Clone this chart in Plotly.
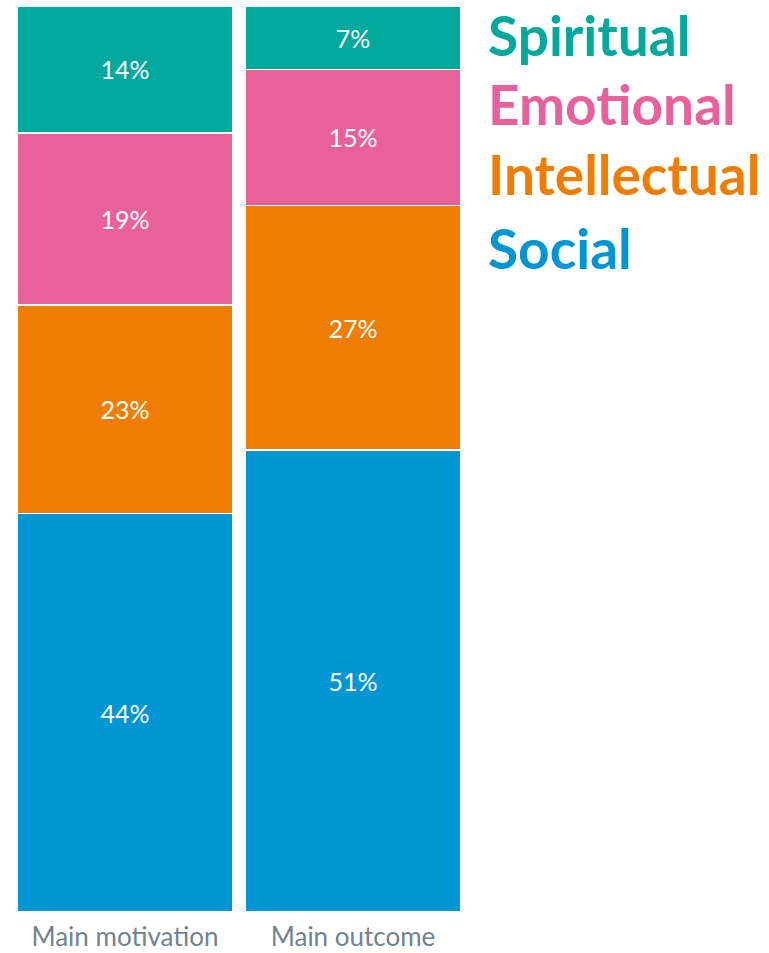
import plotly.graph_objects as go

# Share of respondents by dimension, for motivation vs. outcome
categories = ["Main motivation", "Main outcome"]
series_names = ["Social", "Intellectual", "Emotional", "Spiritual"]
series_values = {
    "Social": [44, 51],
    "Intellectual": [23, 27],
    "Emotional": [19, 15],
    "Spiritual": [14, 7],
}
series_colors = {
    "Social": "#0096D4",
    "Intellectual": "#EF7D00",
    "Emotional": "#E9619A",
    "Spiritual": "#00A99C",
}

W, H = 769, 953
M_L, M_R, M_T, M_B = 11, 302, 6, 41
plot_h = H - M_T - M_B
plot_w = W - M_L - M_R

fig = go.Figure()
for name in series_names:
    vals = series_values[name]
    fig.add_trace(go.Bar(
        x=categories,
        y=vals,
        name=name,
        marker=dict(color=series_colors[name], line=dict(color="white", width=1.5)),
        text=[f"{v}%" for v in vals],
        textposition="inside",
        insidetextanchor="middle",
        textangle=0,
        textfont=dict(family="Lato", size=25, color="white"),
        hoverinfo="skip",
    ))

# Right-hand key: coloured words stacked top to bottom
key_order = ["Spiritual", "Emotional", "Intellectual", "Social"]
key_top_px = [0, 69, 139, 213]
for name, top in zip(key_order, key_top_px):
    fig.add_annotation(
        text=f"<b>{name}</b>",
        xref="paper", yref="paper",
        x=(486 - M_L) / plot_w, y=1 - (top - M_T) / plot_h,
        xanchor="left", yanchor="top",
        showarrow=False,
        font=dict(family="Lato", size=55, color=series_colors[name]),
    )

fig.update_layout(
    barmode="stack",
    bargap=0.053,
    width=W, height=H,
    margin=dict(l=M_L, r=M_R, t=M_T, b=M_B, autoexpand=False),
    paper_bgcolor="white",
    plot_bgcolor="white",
    showlegend=False,
    uniformtext=dict(minsize=25, mode="show"),
)
fig.update_xaxes(
    showgrid=False, zeroline=False, showline=False, ticks="",
    tickfont=dict(family="Lato", size=26, color="#72838D"),
    ticklabelstandoff=7,
    automargin=False,
)
fig.update_yaxes(range=[0, 100], showgrid=False, zeroline=False,
                 showticklabels=False, showline=False, automargin=False)

fig.write_html("out.html")
